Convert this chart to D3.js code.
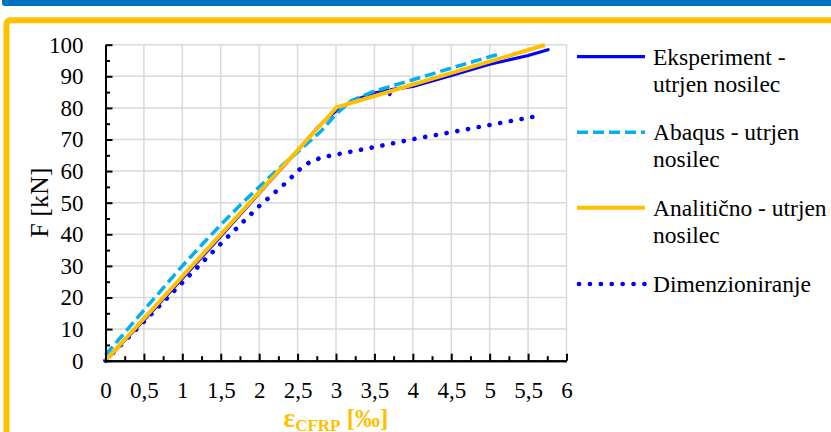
<!DOCTYPE html>
<html lang="sl">
<head>
<meta charset="UTF-8">
<title>F - eps CFRP</title>
<script src="https://cdn.jsdelivr.net/npm/d3@7"></script>
<style>
    html, body {
        margin: 0;
        padding: 0;
        background: #fff;
    }
    svg text {
        font-family: "Liberation Serif", "Times New Roman", serif;
        fill: #000;
    }
</style>
</head>
<body>
<div id="vis"></div>
<script>
// data: [strain in permille, force in kN]
var xTicks = [0, 0.5, 1, 1.5, 2, 2.5, 3, 3.5, 4, 4.5, 5, 5.5, 6];
var yTicks = [0, 10, 20, 30, 40, 50, 60, 70, 80, 90, 100];

var eksperiment = [[0, 0], [0.5, 12.8], [1, 26], [1.5, 39.4], [2, 53], [2.5, 66.5], [2.75, 73.5],
    [2.9, 77], [3, 79], [3.2, 82], [3.5, 84.7], [3.68, 85.6], [3.7, 84.2], [3.72, 85.8], [4, 86.8],
    [4.5, 90.3], [5, 93.8], [5.5, 96.6], [5.76, 98.4]];
var abaqus = [[0, 1.8], [0.5, 16], [1, 30], [1.25, 36.6], [1.5, 43], [1.75, 49.2], [2, 55],
    [2.3, 61.8], [2.6, 68.2], [2.8, 72.5], [3, 78], [3.2, 82.3], [3.5, 85.3], [4, 88.9],
    [4.5, 92.6], [5, 96.2], [5.12, 97]];
var analiticno = [[0, 0], [3.01, 80.2], [5.72, 99.9]];
var dimenzioniranje = [[0, 0], [1, 24.7], [1.5, 37], [2, 48.9], [2.33, 55.9], [2.53, 60.6],
    [2.65, 62.7], [2.78, 64], [2.91, 64.8], [3.5, 67.6], [4, 70.1], [4.5, 72.3], [5, 74.6], [5.57, 77.2]];

var seriesNames = [["Eksperiment -", "utrjen nosilec"], ["Abaqus - utrjen", "nosilec"],
    ["Analitično - utrjen", "nosilec"], ["Dimenzioniranje"]];

var W = 831, H = 432;

var svg = d3.select('#vis')
    .append('svg')
    .attr('width', W)
    .attr('height', H);

// page decoration: blue bar and orange frame
svg.append('rect')
    .attr('x', 2).attr('y', -5)
    .attr('width', W + 20).attr('height', 11)
    .attr('rx', 3)
    .attr('fill', '#0070C0');

svg.append('rect')
    .attr('x', 6.5).attr('y', 20.3)
    .attr('width', W + 40).attr('height', H + 40)
    .attr('rx', 4)
    .attr('fill', 'none')
    .attr('stroke', '#FFC000')
    .attr('stroke-width', 6);

var x = d3.scaleLinear().domain([0, 6]).range([105.5, 566.5]);
var y = d3.scaleLinear().domain([0, 100]).range([360.7, 44.7]);

var comma = function(d) { return String(d).replace('.', ','); };

// grid
svg.append('g')
    .selectAll('line.v')
    .data(xTicks.slice(1))
    .enter().append('line')
    .attr('x1', function(d) { return x(d); })
    .attr('x2', function(d) { return x(d); })
    .attr('y1', y(0)).attr('y2', y(100))
    .attr('stroke', '#d9d9d9').attr('stroke-width', 1.5);

svg.append('g')
    .selectAll('line.h')
    .data(yTicks.slice(1))
    .enter().append('line')
    .attr('x1', x(0)).attr('x2', x(6))
    .attr('y1', function(d) { return y(d); })
    .attr('y2', function(d) { return y(d); })
    .attr('stroke', '#d9d9d9').attr('stroke-width', 1.5);

// series
var line = d3.line()
    .x(function(d) { return x(d[0]); })
    .y(function(d) { return y(d[1]); });

svg.append('path').datum(dimenzioniranje)
    .attr('d', line)
    .attr('fill', 'none').attr('stroke', '#0000FF')
    .attr('stroke-width', 4.6).attr('stroke-linecap', 'round')
    .attr('stroke-dasharray', '0.1,10.8');

svg.append('path').datum(eksperiment)
    .attr('d', line)
    .attr('fill', 'none').attr('stroke', '#0000FF')
    .attr('stroke-width', 3.2).attr('stroke-linecap', 'round').attr('stroke-linejoin', 'round');

svg.append('path').datum(abaqus)
    .attr('d', line)
    .attr('fill', 'none').attr('stroke', '#00B0F0')
    .attr('stroke-width', 3.5)
    .attr('stroke-dasharray', '11,5');

svg.append('path').datum(analiticno)
    .attr('d', line)
    .attr('fill', 'none').attr('stroke', '#FFC000')
    .attr('stroke-width', 4);

// axes: ticks inside, minor ticks between
var yAxis = d3.axisLeft(y).tickValues(yTicks).tickFormat(comma)
    .tickSizeInner(-7).tickSizeOuter(0).tickPadding(22);
var yMinor = d3.axisLeft(y).tickValues(d3.range(5, 100, 10)).tickFormat('')
    .tickSizeInner(-4.5).tickSizeOuter(0);
var xAxis = d3.axisBottom(x).tickValues(xTicks).tickFormat(comma)
    .tickSizeInner(-7).tickSizeOuter(0).tickPadding(21);
var xMinor = d3.axisBottom(x).tickValues(d3.range(0.25, 6, 0.5)).tickFormat('')
    .tickSizeInner(-4.5).tickSizeOuter(0);

function styleAxis(g) {
    g.select('.domain').attr('stroke', '#000').attr('stroke-width', 2);
    g.selectAll('.tick line').attr('stroke', '#000').attr('stroke-width', 2);
    g.selectAll('.tick text').attr('font-size', 23).attr('fill', '#000');
}

svg.append('g').attr('transform', 'translate(' + x(0) + ',0)').call(yMinor).call(styleAxis);
svg.append('g').attr('transform', 'translate(' + x(0) + ',0)').call(yAxis).call(styleAxis);
svg.append('g').attr('transform', 'translate(0,' + y(0) + ')').call(xMinor).call(styleAxis);
svg.append('g').attr('transform', 'translate(0,' + y(0) + ')').call(xAxis).call(styleAxis);

// axis titles
svg.append('text')
    .attr('transform', 'translate(48,' + (y(50)) + ') rotate(-90)')
    .attr('text-anchor', 'middle')
    .attr('font-size', 26)
    .text('F [kN]');

var xt = svg.append('text')
    .attr('x', (x(0) + x(6)) / 2)
    .attr('y', 427)
    .attr('text-anchor', 'middle')
    .attr('font-weight', 'bold')
    .style('fill', '#FFC000');
xt.append('tspan').attr('font-size', 27).text('ε');
xt.append('tspan').attr('font-size', 17).attr('dy', 4).text('CFRP');
xt.append('tspan').attr('font-size', 25).attr('dy', -4).text(' [‰]');

// legend
var legendStyles = [
    {color: '#0000FF', width: 3.2, dash: null, cap: 'butt'},
    {color: '#00B0F0', width: 3.5, dash: '11,5', cap: 'butt'},
    {color: '#FFC000', width: 4, dash: null, cap: 'butt'},
    {color: '#0000FF', width: 4.6, dash: '0.1,10.8', cap: 'round'}
];
var legendY = [56.7, 132.3, 207.7, 284];

var leg = svg.append('g').selectAll('g')
    .data(seriesNames)
    .enter().append('g')
    .attr('transform', function(d, i) { return 'translate(0,' + legendY[i] + ')'; });

leg.append('line')
    .attr('x1', function(d, i) { return i === 3 ? 579 : 577; })
    .attr('x2', 645)
    .attr('y1', 0).attr('y2', 0)
    .attr('stroke', function(d, i) { return legendStyles[i].color; })
    .attr('stroke-width', function(d, i) { return legendStyles[i].width; })
    .attr('stroke-dasharray', function(d, i) { return legendStyles[i].dash; })
    .attr('stroke-linecap', function(d, i) { return legendStyles[i].cap; });

leg.each(function(d) {
    var t = d3.select(this).append('text')
        .attr('x', 653).attr('y', 8)
        .attr('font-size', 23.5);
    d.forEach(function(s, k) {
        t.append('tspan').attr('x', 653).attr('dy', k === 0 ? 0 : 27).text(s);
    });
});
</script>
</body>
</html>
